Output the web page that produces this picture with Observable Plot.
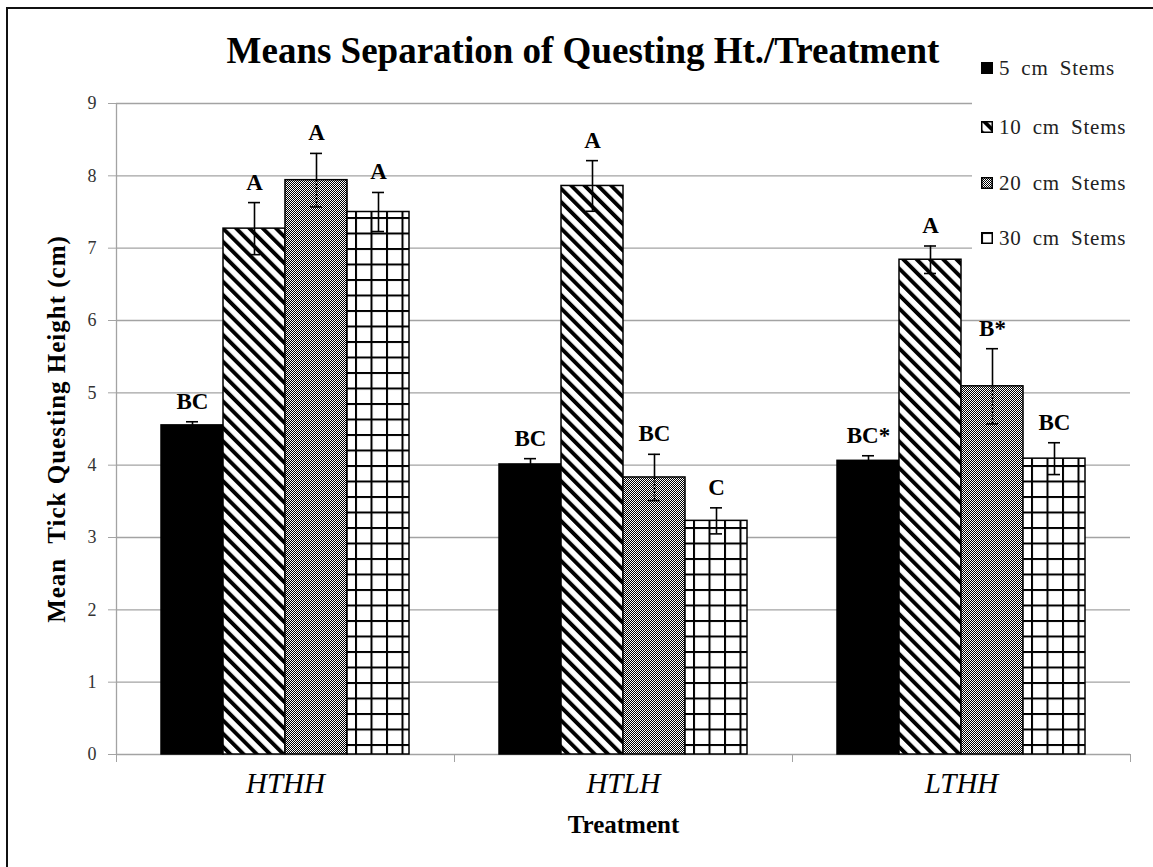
<!DOCTYPE html>
<html>
<head>
<meta charset="utf-8">
<script src="https://cdn.jsdelivr.net/npm/d3@7"></script>
<script src="https://cdn.jsdelivr.net/npm/@observablehq/plot@0.6"></script>
<style>
  body { margin: 0; background: #fff; }
  #wrap { position: relative; width: 1153px; height: 867px; overflow: hidden; font-family: "Liberation Serif", "DejaVu Serif", serif; background: #fff; }
  .layer { position: absolute; left: 0; top: 0; }
  #border { position: absolute; left: 6px; top: 7px; width: 1200px; height: 900px; border: 2px solid #111; box-sizing: border-box; }
  #title { position: absolute; left: 183px; width: 800px; top: 32px; text-align: center; white-space: nowrap;
           font-size: 37px; font-weight: bold; line-height: 37px; color: #000; }
  #legend { position: absolute; left: 972px; top: 46px; width: 181px; height: 210px; background: #fff; }
  .item { position: absolute; left: 9px; height: 22px; display: flex; align-items: center; white-space: nowrap; }
  .item svg { display: block; margin-right: 6px; }
  .item span { font-size: 21px; color: #222; word-spacing: 5px; letter-spacing: 0.8px; }
  svg text { font-family: "Liberation Serif", "DejaVu Serif", serif; }
</style>
</head>
<body>
<svg width="0" height="0" style="position:absolute">
  <defs>
    <pattern id="diag" patternUnits="userSpaceOnUse" width="9.4" height="9.4" patternTransform="rotate(-45)">
      <rect width="9.4" height="9.4" fill="#fff"></rect>
      <rect width="3.9" height="9.4" fill="#000"></rect>
    </pattern>
    <pattern id="checker" patternUnits="userSpaceOnUse" width="2" height="2">
      <rect width="2" height="2" fill="#fff"></rect>
      <rect width="1" height="1" fill="#000"></rect>
      <rect x="1" y="1" width="1" height="1" fill="#000"></rect>
    </pattern>
    <pattern id="grid" patternUnits="userSpaceOnUse" width="15.5" height="15.5">
      <rect width="15.5" height="15.5" fill="#fff"></rect>
      <rect width="2" height="15.5" fill="#000"></rect>
      <rect width="15.5" height="2" fill="#000"></rect>
    </pattern>
  </defs>
</svg>
<div id="wrap">
  <div id="border"></div>
  <div id="bg" class="layer"></div>
  <div id="fg" class="layer"></div>
  <div id="title"></div>
  <div id="legend"></div>
</div>
<script>
// ---- data ----
const treatments = ["HTHH", "HTLH", "LTHH"];
const series = ["5 cm Stems", "10 cm Stems", "20 cm Stems", "30 cm Stems"];
const mean5  = [4.55, 4.01, 4.06];
const mean10 = [7.27, 7.86, 6.84];
const mean20 = [7.94, 3.83, 5.09];
const mean30 = [7.50, 3.23, 4.09];
const se5  = [0.05, 0.08, 0.07];
const se10 = [0.36, 0.35, 0.19];
const se20 = [0.37, 0.32, 0.52];
const se30 = [0.27, 0.18, 0.22];
const lab5  = ["BC", "BC", "BC*"];
const lab10 = ["A", "A", "A"];
const lab20 = ["A", "BC", "B*"];
const lab30 = ["A", "C", "BC"];
const yTicks = [0, 1, 2, 3, 4, 5, 6, 7, 8, 9];
const titleText = "Means Separation of Questing Ht./Treatment";
const yLabel = "Mean  Tick Questing Height (cm)";
const xLabel = "Treatment";

const fills = ["#000", "url(#diag)", "url(#checker)", "url(#grid)"];
const means = [mean5, mean10, mean20, mean30];
const ses = [se5, se10, se20, se30];
const labs = [lab5, lab10, lab20, lab30];
const data = [];
treatments.forEach((t, ti) => {
  series.forEach((s, si) => {
    data.push({treatment: t, series: s, mean: means[si][ti], se: ses[si][ti], label: labs[si][ti]});
  });
});
const dottedInside = data.filter(d => d.series === series[2]);
const solidInside = data.filter(d => d.series !== series[2]);

const W = 1153, H = 867;
const M = {marginLeft: 116, marginRight: 23, marginTop: 103, marginBottom: 113};
const font = "Liberation Serif, DejaVu Serif, serif";
const gridColor = "#a3a3a3";

// ---- background layer: grid, axes ----
const bg = Plot.plot({
  width: W, height: H, ...M,
  style: {background: "transparent", fontFamily: font, overflow: "visible"},
  x: {type: "linear", domain: [0, treatments.length]},
  y: {domain: [0, 9]},
  marks: [
    Plot.gridY(yTicks.slice(1), {stroke: gridColor, strokeOpacity: 1, strokeWidth: 1.3}),
    Plot.axisY(yTicks, {tickSize: 8, tickPadding: 12, fontSize: 18, fontFamily: font, tickFormat: d3.format("d"), stroke: gridColor, fill: "#333", label: null}),
    Plot.axisX(d3.range(treatments.length + 1), {tickSize: 8, tickFormat: () => "", stroke: gridColor, label: null}),
    Plot.ruleY([0], {stroke: gridColor, strokeWidth: 1.3}),
    Plot.ruleX([0], {stroke: gridColor, strokeWidth: 1.3}),
    Plot.text([yLabel], {text: d => d, frameAnchor: "left", textAnchor: "middle", dx: -60, rotate: -90, fontWeight: "bold", fontSize: 25, fontFamily: font, fill: "#000"}),
    Plot.text([xLabel], {text: d => d, frameAnchor: "bottom", dy: 78, fontWeight: "bold", fontSize: 25, fontFamily: font, fill: "#000"})
  ]
});
document.getElementById("bg").appendChild(bg);
d3.select(bg).selectAll("text").filter(function() { return this.textContent === yLabel; }).style("letter-spacing", "1px");

// ---- foreground layer: bars, error bars, labels ----
const fg = Plot.plot({
  width: W, height: H, ...M,
  style: {background: "transparent", fontFamily: font, overflow: "visible"},
  fx: {domain: treatments, paddingInner: 0.266, paddingOuter: 0.133, axis: null, label: null},
  x: {domain: series, padding: 0, axis: null},
  y: {domain: [0, 9], axis: null},
  color: {domain: series, range: fills},
  marks: [
    Plot.barY(data, {fx: "treatment", x: "series", y: "mean", fill: "series", stroke: "#000", strokeWidth: 1.5}),
    // upper half of each error bar (solid)
    Plot.ruleX(data, {fx: "treatment", x: "series", y1: "mean", y2: d => d.mean + d.se, stroke: "#000", strokeWidth: 1.6}),
    // lower half: solid, except dotted-looking inside the shaded 20 cm bars
    Plot.ruleX(solidInside, {fx: "treatment", x: "series", y1: d => d.mean - d.se, y2: "mean", stroke: "#000", strokeWidth: 1.6}),
    Plot.ruleX(dottedInside, {fx: "treatment", x: "series", y1: d => d.mean - d.se, y2: "mean", stroke: "#000", strokeWidth: 1.8, strokeDasharray: "2,1.5"}),
    Plot.tickY(data, {fx: "treatment", x: "series", y: d => d.mean + d.se, insetLeft: 25, insetRight: 25, stroke: "#000", strokeWidth: 1.6}),
    Plot.tickY(data, {fx: "treatment", x: "series", y: d => d.mean - d.se, insetLeft: 25, insetRight: 25, stroke: "#000", strokeWidth: 1.6}),
    Plot.text(data, {fx: "treatment", x: "series", y: d => d.mean + d.se, text: "label", dy: -13, lineAnchor: "bottom", fontWeight: "bold", fontSize: 23, fontFamily: font, fill: "#000"}),
    Plot.text(treatments, {fx: d => d, text: d => d, frameAnchor: "bottom", dy: 18, lineAnchor: "top", fontStyle: "italic", fontSize: 29, fontFamily: font, fill: "#000"})
  ]
});
document.getElementById("fg").appendChild(fg);

// ---- title ----
document.getElementById("title").textContent = titleText;

// ---- legend ----
const legend = document.getElementById("legend");
const rowTops = [11, 70, 126, 181];
series.forEach((s, i) => {
  const div = document.createElement("div");
  div.className = "item";
  div.style.top = rowTops[i] + "px";
  div.innerHTML = `<svg width="12" height="12"><rect x="0.75" y="0.75" width="10.5" height="10.5" fill="${fills[i]}" stroke="#000" stroke-width="1.5"></rect></svg><span>${s}</span>`;
  legend.appendChild(div);
});
</script>
</body>
</html>
